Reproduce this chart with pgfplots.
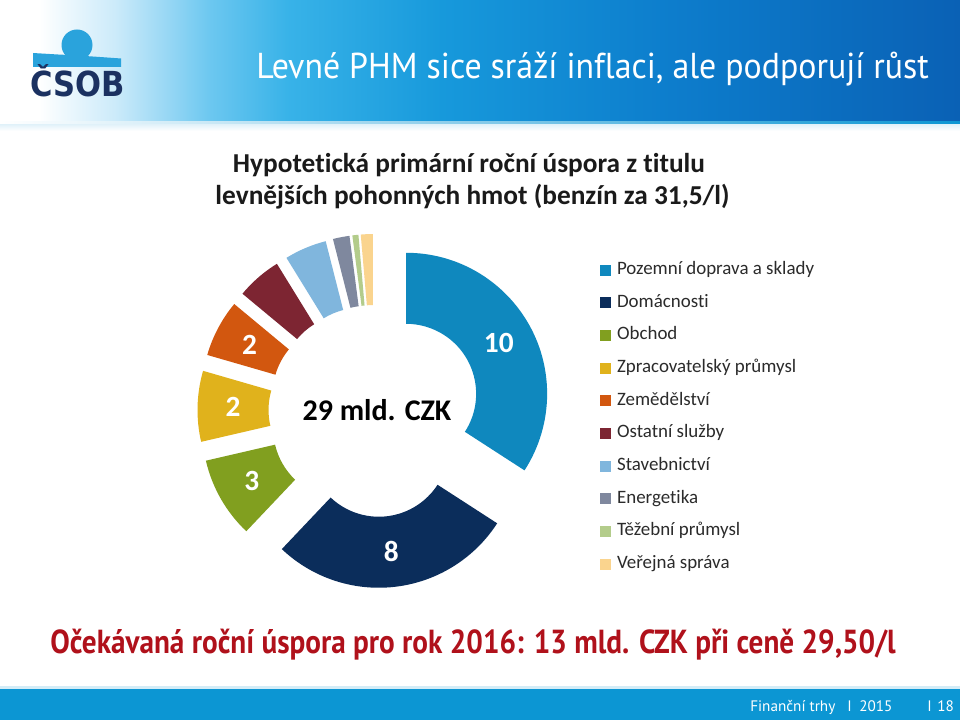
\documentclass[border=0pt]{standalone}
\usepackage{pgfplots}
\pgfplotsset{compat=1.18}
\usepackage{pgfplotstable}
\usepackage{fontspec}
\setmainfont{Carlito}[Ligatures=NoCommon]
\newfontfamily\ptsans{PT Sans}[Ligatures=NoCommon]
\newfontfamily\dejavu{DejaVu Sans}

\definecolor{seg0}{HTML}{0F88BE}
\definecolor{seg1}{HTML}{0B2D5B}
\definecolor{seg2}{HTML}{819F1F}
\definecolor{seg3}{HTML}{E0B21C}
\definecolor{seg4}{HTML}{D2570F}
\definecolor{seg5}{HTML}{7D2532}
\definecolor{seg6}{HTML}{80B6DD}
\definecolor{seg7}{HTML}{7F889E}
\definecolor{seg8}{HTML}{B3CC8B}
\definecolor{seg9}{HTML}{FAD48E}
\definecolor{logoblue}{HTML}{2AA3DC}
\definecolor{logonavy}{HTML}{1B3161}
\definecolor{footblue}{HTML}{0C96D3}
\definecolor{bottomred}{HTML}{B0111B}
\definecolor{legtext}{HTML}{2B2B2B}
\definecolor{titletext}{HTML}{1A1A1A}

\pgfdeclarehorizontalshading{headershade}{100bp}{%
  rgb(0bp)=(1,1,1);
  rgb(27bp)=(1,1,1);
  rgb(31bp)=(0.80,0.92,0.98);
  rgb(36bp)=(0.42,0.78,0.94);
  rgb(40bp)=(0.22,0.70,0.91);
  rgb(48bp)=(0.09,0.60,0.86);
  rgb(60bp)=(0.05,0.49,0.80);
  rgb(75bp)=(0.04,0.38,0.71);
  rgb(100bp)=(0.04,0.38,0.71)}

% ---- data: hypothetical yearly saving (bn CZK), clockwise from 12 o'clock
\pgfplotstableread{
idx value
0 9.9
1 8.1
2 2.7
3 2.35
4 1.9
5 1.5
6 1.4
7 0.55
8 0.2
9 0.4
}\donut
\pgfplotstablecreatecol[create col/expr accum={\pgfmathaccuma + \thisrow{value}}{0}]{cum}\donut
\pgfplotstablegetelem{9}{cum}\of\donut
\pgfmathfloatparsenumber{\pgfplotsretval}\pgfmathfloattofixed{\pgfmathresult}
\let\totalfix\pgfmathresult

\newcommand\tofixed[2]{\pgfmathfloatparsenumber{#1}\pgfmathfloattofixed{\pgfmathresult}\let#2\pgfmathresult}

% one exploded donut segment, drawn around its (exploded) centre
\pgfdeclareplotmark{donutseg}{%
  \tofixed{\cumraw}{\cumfix}%
  \tofixed{\valraw}{\valfix}%
  \tofixed{\idxraw}{\idxfix}%
  \pgfmathtruncatemacro\ci{round(\idxfix)}%
  \pgfmathsetmacro\aend{90-360*\cumfix/\totalfix}%
  \pgfmathsetmacro\astart{\aend+360*\valfix/\totalfix}%
  \pgfmathsetmacro\amid{0.5*(\astart+\aend)}%
  \pgfsetfillcolor{seg\ci}%
  \pgfpathmoveto{\pgfpointpolar{\astart}{105.75pt}}%
  \pgfpatharc{\astart}{\aend}{105.75pt}%
  \pgfpathlineto{\pgfpointpolar{\aend}{52.5pt}}%
  \pgfpatharc{\aend}{\astart}{52.5pt}%
  \pgfpathclose
  \pgfusepath{fill}%
  \pgfmathparse{\valfix>=1.8 ? 1 : 0}%
  \ifdim\pgfmathresult pt>0.5pt
    \pgftext[at=\pgfpointpolar{\amid}{79.1pt}]{\color{white}\fontsize{22}{22}\selectfont\bfseries
      \pgfmathprintnumber[fixed,precision=0,assume math mode=true]{\valfix}}%
  \fi
}

\begin{document}
\begin{tikzpicture}[x=0.75pt,y=-0.75pt]
\path[use as bounding box] (0,0) rectangle (960,720);
\fill[white] (0,0) rectangle (960,720);

% header
\shade[shading=headershade] (0,0) rectangle (960,123);
\shade[left color=white, right color=footblue] (0,121.5) rectangle (960,124.5);
\shade[top color=footblue!12, bottom color=white] (0,124.5) rectangle (960,131);

% logo
\fill[logoblue] (77,45) circle (15.5);
\fill[logoblue] (33,53) -- (58,54.5) .. controls (80,55.5) and (100,57) .. (121,58.5) -- (121,67) -- (33,67) -- cycle;
\node[anchor=base, inner sep=0, text=logonavy] at (77.5,97)
  {\dejavu\bfseries\fontsize{22.5}{23}\selectfont\scalebox{1.02}[1.15]{ČSOB}};

% slide title
\node[anchor=base west, inner sep=0, text=white] at (256,79)
  {\ptsans\fontsize{27}{30}\selectfont\scalebox{0.94}[1]{Levné PHM sice sráží inflaci, ale podporují růst}};

% chart title
\node[anchor=base, inner sep=0, text=titletext] at (469,173)
  {\fontsize{20.5}{24}\selectfont\bfseries Hypotetická primární roční úspora z titulu};
\node[anchor=base, inner sep=0, text=titletext] at (472.5,205)
  {\fontsize{20.5}{24}\selectfont\bfseries levnějších pohonných hmot (benzín za 31,5/l)};

\coordinate (donutC) at (374.5,411);
\begin{axis}[
  at={(donutC)}, anchor=center,
  x=0.75pt, y=0.75pt,
  xmin=-180, xmax=180, ymin=-180, ymax=180,
  hide axis, clip=false,
  legend cell align=left,
  legend image code/.code={\fill (0pt,-4.1pt) rectangle (8.3pt,4.1pt);},
  legend style={draw=none, fill=none, inner sep=0pt, outer sep=0pt,
    at={(1.1264,0.9144)}, anchor=north west,
    font=\fontsize{14.2}{16}\selectfont, text=legtext,
    row sep=12pt, column sep=4.5pt,
    nodes={inner sep=0pt, text height=9.5pt, text depth=3pt}},
]
\addplot[only marks, mark=donutseg, forget plot,
  visualization depends on={\thisrow{cum}\as\cumraw},
  visualization depends on={\thisrow{value}\as\valraw},
  visualization depends on={\thisrow{idx}\as\idxraw},
] table[
  x expr={36*cos(90-360*(\thisrow{cum}-0.5*\thisrow{value})/\totalfix)},
  y expr={36*sin(90-360*(\thisrow{cum}-0.5*\thisrow{value})/\totalfix)},
] {\donut};
\addlegendimage{fill=seg0, draw=none}\addlegendentry{Pozemní doprava a sklady}
\addlegendimage{fill=seg1, draw=none}\addlegendentry{Domácnosti}
\addlegendimage{fill=seg2, draw=none}\addlegendentry{Obchod}
\addlegendimage{fill=seg3, draw=none}\addlegendentry{Zpracovatelský průmysl}
\addlegendimage{fill=seg4, draw=none}\addlegendentry{Zemědělství}
\addlegendimage{fill=seg5, draw=none}\addlegendentry{Ostatní služby}
\addlegendimage{fill=seg6, draw=none}\addlegendentry{Stavebnictví}
\addlegendimage{fill=seg7, draw=none}\addlegendentry{Energetika}
\addlegendimage{fill=seg8, draw=none}\addlegendentry{Těžební průmysl}
\addlegendimage{fill=seg9, draw=none}\addlegendentry{Veřejná správa}
\end{axis}

% centre label
\node[inner sep=0, text=black] at (377,410)
  {\fontsize{22.5}{24}\selectfont\bfseries 29 mld. CZK};

% bottom statement
\node[anchor=base west, inner sep=0, text=bottomred] at (50,653)
  {\ptsans\bfseries\fontsize{25}{30}\selectfont\scalebox{0.876}[1]{Očekávaná roční úspora pro rok 2016: 13 mld. CZK při ceně 29,50/l}};

% footer
\fill[footblue!18] (0,685.5) rectangle (960,688.5);
\fill[footblue] (0,688.5) rectangle (960,720);
\begin{scope}[every node/.style={anchor=base west, inner sep=0, text=white,
    font=\ptsans\fontsize{11.4}{12}\selectfont}]
\node at (750,711) {Finanční trhy};
\node at (847,711) {I};
\node at (859,711) {2015};
\node at (927,711) {I};
\node at (937,711) {18};
\end{scope}
\end{tikzpicture}
\end{document}
